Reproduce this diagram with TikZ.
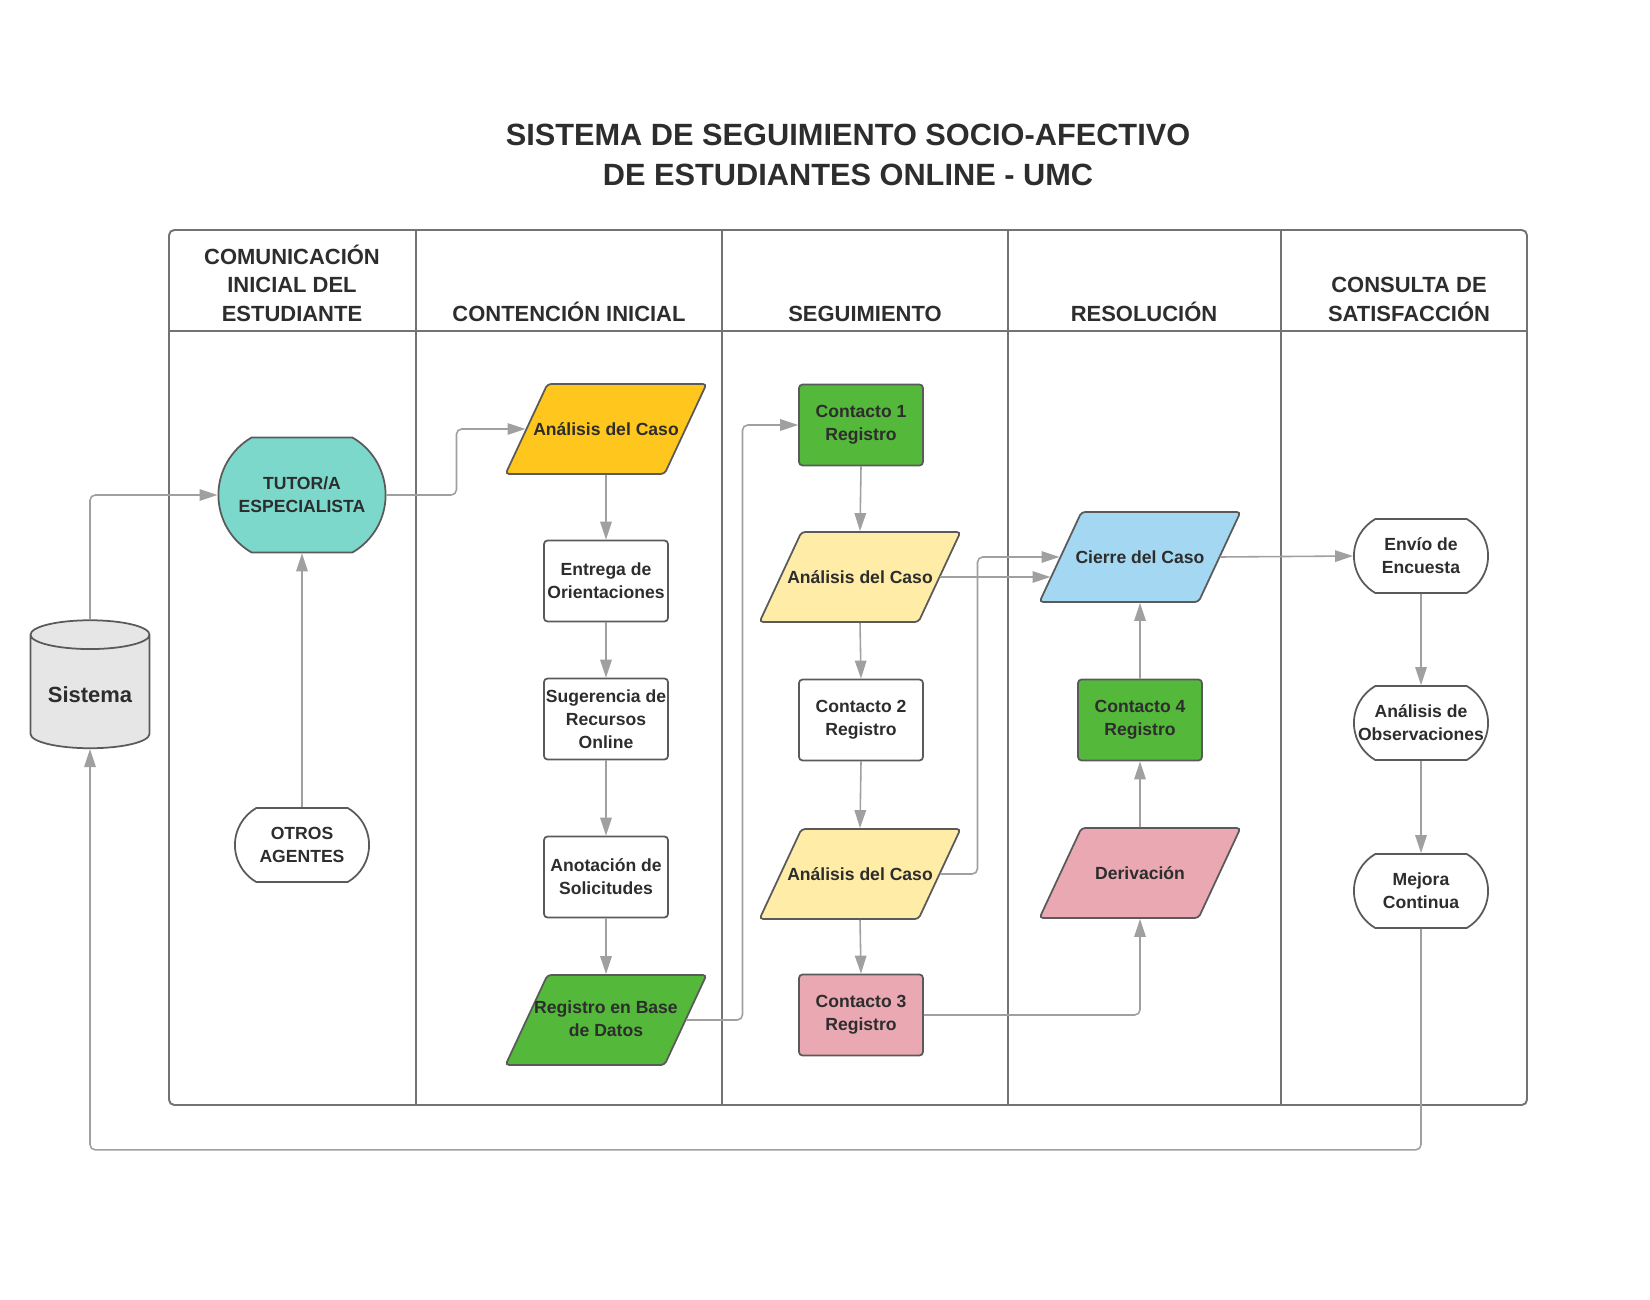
\documentclass[tikz,border=0pt]{standalone}
\usepackage{fontspec}
\setmainfont{Liberation Sans}
\usepackage{tikz}
\usetikzlibrary{positioning}
\usetikzlibrary{arrows.meta, shapes.geometric, shapes.misc}
\definecolor{turquesa}{RGB}{125,216,204}
\definecolor{naranja}{RGB}{255,198,30}
\definecolor{verde}{RGB}{84,184,58}
\definecolor{amarillo}{RGB}{255,236,167}
\definecolor{celeste}{RGB}{164,215,242}
\definecolor{rosa}{RGB}{234,168,179}
\definecolor{gris}{RGB}{230,230,230}
\definecolor{borde}{RGB}{90,90,90}
\definecolor{linea}{RGB}{160,160,160}
\definecolor{texto}{RGB}{45,45,45}

\tikzset{
    proceso/.style={rectangle, draw=borde, line width=1pt, rounded corners=2pt,
        minimum width=2.48cm, minimum height=1.62cm, inner xsep=0pt,
        align=center, text=texto, font=\bfseries\fontsize{10}{13}\selectfont},
    datos/.style={trapezium, trapezium left angle=65, trapezium right angle=115,
        trapezium stretches body, draw=borde, line width=1pt, rounded corners=2pt,
        minimum width=4.02cm, minimum height=0pt, inner xsep=-10pt, inner ysep=0pt,
        text height=29.2pt, text depth=22pt,
        align=center, text=texto, font=\bfseries\fontsize{10}{13}\selectfont},
    terminal/.style={rounded rectangle, rounded rectangle arc length=120,
        draw=borde, line width=1pt, fill=white, inner xsep=-14pt,
        align=center, text=texto, font=\bfseries\fontsize{10}{13}\selectfont},
    cabecera/.style={anchor=south, inner sep=0pt, align=center, text=texto,
        font=\bfseries\fontsize{12.5}{16.2}\selectfont},
    flecha/.style={draw=linea, line width=0.9pt, rounded corners=3pt,
        -{Triangle[length=0.36cm, width=0.23cm]}},
    marco/.style={draw=borde!85, line width=1.1pt}
}

\begin{document}
\begin{tikzpicture}[x=0.02cm, y=-0.02cm]
    \useasboundingbox (0,0) rectangle (1650,1300);

    % Titulo
    \node[text=texto, align=center, font=\bfseries\fontsize{17.5}{22.8}\selectfont] (titulo) at (848,155)
        {SISTEMA DE SEGUIMIENTO SOCIO-AFECTIVO\\DE ESTUDIANTES ONLINE - UMC};

    % Marco y carriles
    \draw[marco, rounded corners=3pt] (169,230) rectangle (1527,1105);
    \draw[marco] (169,331) -- (1527,331);
    \draw[marco] (416,230) -- (416,1105);
    \draw[marco] (722,230) -- (722,1105);
    \draw[marco] (1008,230) -- (1008,1105);
    \draw[marco] (1281,230) -- (1281,1105);

    % Cabeceras de los carriles
    \node[cabecera] (cab1) at (292,322) {COMUNICACIÓN\\INICIAL DEL\\ESTUDIANTE};
    \node[cabecera] (cab2) at (569,322) {CONTENCIÓN INICIAL};
    \node[cabecera] (cab3) at (865,322) {SEGUIMIENTO};
    \node[cabecera] (cab4) at (1144,322) {RESOLUCIÓN};
    \node[cabecera] (cab5) at (1409,322) {CONSULTA DE\\SATISFACCIÓN};

    % Sistema (cilindro)
    \node[cylinder, shape border rotate=90, aspect=0.3, draw=borde, line width=1pt, fill=gris,
        minimum width=2.38cm, minimum height=2.56cm, text=texto,
        font=\bfseries\fontsize{12.5}{15}\selectfont] (sis) at (90,695) {Sistema};

    % Comunicacion inicial
    \node[terminal, fill=turquesa, minimum width=2.36cm, minimum height=2.3cm] (tutor) at (302,495) {TUTOR/A\\ESPECIALISTA};
    \node[terminal, minimum width=1.7cm, minimum height=1.48cm] (otros) at (302,845) {OTROS\\AGENTES};

    % Contencion inicial
    \node[datos, fill=naranja] (an0) at (606,429) {Análisis del Caso};
    \node[proceso] (ent) at (606,581) {Entrega de\\Orientaciones};
    \node[proceso] (sug) at (606,719) {Sugerencia de\\Recursos\\Online};
    \node[proceso] (ano) at (606,877) {Anotación de\\Solicitudes};
    \node[datos, fill=verde, text height=35pt, text depth=16.2pt] (reg) at (606,1020) {Registro en Base\\de Datos};

    % Seguimiento
    \node[proceso, fill=verde] (c1) at (861,425) {Contacto 1\\Registro};
    \node[datos, fill=amarillo] (a1) at (860,577) {Análisis del Caso};
    \node[proceso] (c2) at (861,720) {Contacto 2\\Registro};
    \node[datos, fill=amarillo] (a2) at (860,874) {Análisis del Caso};
    \node[proceso, fill=rosa] (c3) at (861,1015) {Contacto 3\\Registro};

    % Resolucion
    \node[datos, fill=celeste] (cie) at (1140,557) {Cierre del Caso};
    \node[proceso, fill=verde] (c4) at (1140,720) {Contacto 4\\Registro};
    \node[datos, fill=rosa] (der) at (1140,873) {Derivación};

    % Consulta de satisfaccion
    \node[terminal, minimum width=1.7cm, minimum height=1.48cm] (env) at (1421,556) {Envío de\\Encuesta};
    \node[terminal, minimum width=1.7cm, minimum height=1.48cm] (obs) at (1421,723) {Análisis de\\Observaciones};
    \node[terminal, minimum width=1.7cm, minimum height=1.48cm] (mej) at (1421,891) {Mejora\\Continua};

    % Flechas
    \draw[flecha] (sis.north) |- (tutor.west);
    \draw[flecha] (otros.north) -- (tutor.south);
    \draw[flecha] (tutor.east) -- ++(70,0) |- (an0.west);
    \draw[flecha] (an0.south) -- (ent.north);
    \draw[flecha] (ent.south) -- (sug.north);
    \draw[flecha] (sug.south) -- (ano.north);
    \draw[flecha] (ano.south) -- (reg.north);
    \draw[flecha] (reg.east) -- ++(56,0) |- (c1.west);
    \draw[flecha] (c1.south) -- (a1.north);
    \draw[flecha] (a1.south) -- (c2.north);
    \draw[flecha] (c2.south) -- (a2.north);
    \draw[flecha] (a2.south) -- (c3.north);
    \draw[flecha] (a1.east) -- ([xshift=-0.18cm]cie.west |- a1.east);
    \draw[flecha] (a2.east) -- ++(37,0) |- (cie.west);
    \draw[flecha] (c3.east) -| (der.south);
    \draw[flecha] (der.north) -- (c4.south);
    \draw[flecha] (c4.north) -- (cie.south);
    \draw[flecha] (cie.east) -- (env.west);
    \draw[flecha] (env.south) -- (obs.north);
    \draw[flecha] (obs.south) -- (mej.north);
    \draw[flecha] (mej.south) -- ++(0,221) -| (sis.south);
\end{tikzpicture}
\end{document}
